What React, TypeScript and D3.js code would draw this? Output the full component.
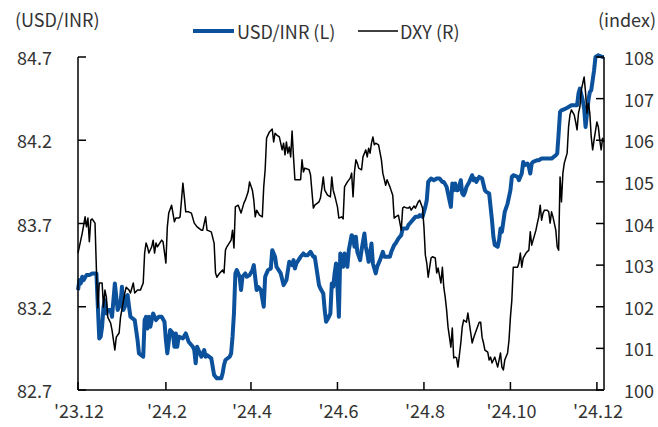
import React from 'react';
import * as d3 from 'd3';

const inrDates = [
  '2023-12-01','2023-12-02','2023-12-03','2023-12-04','2023-12-05','2023-12-07','2023-12-09','2023-12-11','2023-12-14','2023-12-15',
  '2023-12-16','2023-12-17','2023-12-18','2023-12-19','2023-12-20','2023-12-21','2023-12-22','2023-12-24','2023-12-25','2023-12-27',
  '2023-12-28','2023-12-29','2023-12-30','2023-12-31','2024-01-01','2024-01-02','2024-01-03','2024-01-04','2024-01-05','2024-01-06',
  '2024-01-07','2024-01-10','2024-01-12','2024-01-13','2024-01-16','2024-01-17','2024-01-18','2024-01-19','2024-01-20','2024-01-21',
  '2024-01-23','2024-01-24','2024-01-25','2024-01-27','2024-01-29','2024-01-31','2024-02-01','2024-02-02','2024-02-04','2024-02-06',
  '2024-02-07','2024-02-08','2024-02-09','2024-02-10','2024-02-13','2024-02-15','2024-02-17','2024-02-20','2024-02-21','2024-02-22',
  '2024-02-23','2024-02-24','2024-02-26','2024-02-27','2024-02-28','2024-02-29','2024-03-01','2024-03-04','2024-03-06','2024-03-08',
  '2024-03-11','2024-03-12','2024-03-13','2024-03-14','2024-03-17','2024-03-18','2024-03-19','2024-03-20','2024-03-21','2024-03-22',
  '2024-03-24','2024-03-25','2024-03-26','2024-03-28','2024-03-29','2024-03-31','2024-04-02','2024-04-03','2024-04-05','2024-04-06',
  '2024-04-08','2024-04-10','2024-04-11','2024-04-13','2024-04-15','2024-04-16','2024-04-18','2024-04-19','2024-04-22','2024-04-24',
  '2024-04-26','2024-04-28','2024-04-30','2024-05-01','2024-05-02','2024-05-03','2024-05-06','2024-05-08','2024-05-09','2024-05-11',
  '2024-05-13','2024-05-15','2024-05-16','2024-05-19','2024-05-20','2024-05-22','2024-05-23','2024-05-24','2024-05-26','2024-05-27',
  '2024-05-28','2024-05-29','2024-05-30','2024-05-31','2024-06-01','2024-06-02','2024-06-03','2024-06-04','2024-06-05','2024-06-06',
  '2024-06-08','2024-06-09','2024-06-11','2024-06-12','2024-06-13','2024-06-14','2024-06-15','2024-06-17','2024-06-18','2024-06-20',
  '2024-06-21','2024-06-22','2024-06-23','2024-06-24','2024-06-25','2024-06-26','2024-06-28','2024-06-29','2024-07-01','2024-07-03',
  '2024-07-04','2024-07-05','2024-07-08','2024-07-09','2024-07-11','2024-07-12','2024-07-14','2024-07-16','2024-07-17','2024-07-20',
  '2024-07-21','2024-07-22','2024-07-24','2024-07-26','2024-07-28','2024-07-29','2024-07-31','2024-08-02','2024-08-03','2024-08-04',
  '2024-08-06','2024-08-08','2024-08-10','2024-08-12','2024-08-14','2024-08-15','2024-08-17','2024-08-18','2024-08-20','2024-08-21',
  '2024-08-22','2024-08-23','2024-08-24','2024-08-25','2024-08-27','2024-08-28','2024-08-29','2024-08-30','2024-08-31','2024-09-02',
  '2024-09-04','2024-09-05','2024-09-06','2024-09-07','2024-09-09','2024-09-11','2024-09-13','2024-09-14','2024-09-16','2024-09-17',
  '2024-09-18','2024-09-19','2024-09-20','2024-09-22','2024-09-23','2024-09-24','2024-09-25','2024-09-26','2024-09-27','2024-09-29',
  '2024-10-01','2024-10-02','2024-10-03','2024-10-06','2024-10-07','2024-10-09','2024-10-10','2024-10-11','2024-10-13','2024-10-14',
  '2024-10-15','2024-10-16','2024-10-17','2024-10-20','2024-10-21','2024-10-23','2024-10-26','2024-10-28','2024-10-30','2024-11-02',
  '2024-11-03','2024-11-04','2024-11-05','2024-11-06','2024-11-09','2024-11-11','2024-11-13','2024-11-16','2024-11-17','2024-11-18',
  '2024-11-19','2024-11-21','2024-11-22','2024-11-23','2024-11-25','2024-11-26','2024-11-27','2024-11-29','2024-11-30','2024-12-02',
  '2024-12-05','2024-12-06'
];
const inrValues = [
  83.30,83.36,83.34,83.38,83.36,83.39,83.39,83.40,83.40,83.20,
  83.01,83.02,83.08,83.20,83.24,83.16,83.18,83.18,83.14,83.34,
  83.26,83.18,83.20,83.22,83.32,83.18,83.20,83.26,83.27,83.20,
  83.14,83.12,83.00,82.92,82.90,83.12,83.14,83.07,83.14,83.08,
  83.16,83.14,83.12,83.14,83.14,83.11,83.00,82.92,83.06,83.04,
  82.96,83.04,82.96,83.02,83.01,83.04,82.99,82.96,82.94,82.86,
  82.96,82.94,82.90,82.92,82.94,82.90,82.91,82.89,82.79,82.77,
  82.77,82.80,82.85,82.88,82.90,82.92,83.02,83.16,83.40,83.42,
  83.38,83.30,83.38,83.40,83.38,83.39,83.42,83.45,83.30,83.32,
  83.30,83.20,83.38,83.42,83.43,83.54,83.50,83.44,83.40,83.33,
  83.36,83.47,83.45,83.48,83.43,83.46,83.50,83.52,83.51,83.51,
  83.53,83.50,83.50,83.33,83.31,83.28,83.18,83.11,83.14,83.16,
  83.34,83.32,83.40,83.46,83.32,83.14,83.52,83.50,83.44,83.52,
  83.44,83.54,83.63,83.62,83.56,83.62,83.53,83.48,83.54,83.64,
  83.56,83.52,83.47,83.52,83.58,83.46,83.40,83.44,83.48,83.53,
  83.50,83.50,83.50,83.53,83.57,83.58,83.61,83.63,83.67,83.67,
  83.69,83.70,83.72,83.74,83.74,83.75,83.74,83.80,83.84,83.95,
  83.97,83.96,83.97,83.97,83.95,83.95,83.92,83.88,83.80,83.94,
  83.90,83.94,83.90,83.90,83.96,83.88,83.87,83.89,83.92,83.95,
  83.99,83.96,83.97,83.95,83.98,83.97,83.90,83.89,83.88,83.80,
  83.72,83.62,83.57,83.56,83.60,83.67,83.65,83.71,83.77,83.82,
  83.90,83.98,83.99,83.98,83.96,84.00,84.07,84.05,84.06,84.04,
  84.00,84.06,84.07,84.08,84.08,84.09,84.09,84.09,84.09,84.11,
  84.12,84.24,84.37,84.38,84.39,84.40,84.41,84.41,84.41,84.48,
  84.51,84.44,84.39,84.28,84.44,84.49,84.50,84.62,84.70,84.71,
  84.70,84.70
];

const dxyDates = [
  '2023-12-01','2023-12-04','2023-12-06','2023-12-07','2023-12-08','2023-12-09','2023-12-10','2023-12-11','2023-12-13','2023-12-14',
  '2023-12-15','2023-12-16','2023-12-18','2023-12-19','2023-12-20','2023-12-21','2023-12-22','2023-12-23','2023-12-24','2023-12-25',
  '2023-12-27','2023-12-28','2023-12-30','2023-12-31','2024-01-03','2024-01-04','2024-01-06','2024-01-07','2024-01-09','2024-01-10',
  '2024-01-12','2024-01-14','2024-01-16','2024-01-17','2024-01-18','2024-01-19','2024-01-20','2024-01-22','2024-01-23','2024-01-24',
  '2024-01-25','2024-01-26','2024-01-29','2024-01-30','2024-02-01','2024-02-02','2024-02-03','2024-02-05','2024-02-07','2024-02-08',
  '2024-02-10','2024-02-11','2024-02-13','2024-02-14','2024-02-15','2024-02-17','2024-02-19','2024-02-21','2024-02-23','2024-02-26',
  '2024-02-27','2024-02-29','2024-03-01','2024-03-04','2024-03-06','2024-03-07','2024-03-08','2024-03-10','2024-03-12','2024-03-13',
  '2024-03-14','2024-03-15','2024-03-18','2024-03-19','2024-03-20','2024-03-21','2024-03-23','2024-03-25','2024-03-27','2024-03-28',
  '2024-03-30','2024-03-31','2024-04-02','2024-04-03','2024-04-04','2024-04-05','2024-04-07','2024-04-09','2024-04-10','2024-04-11',
  '2024-04-12','2024-04-14','2024-04-16','2024-04-17','2024-04-18','2024-04-19','2024-04-21','2024-04-23','2024-04-24','2024-04-25',
  '2024-04-26','2024-04-27','2024-04-28','2024-04-29','2024-04-30','2024-05-01','2024-05-02','2024-05-04','2024-05-06','2024-05-07',
  '2024-05-08','2024-05-09','2024-05-12','2024-05-13','2024-05-15','2024-05-16','2024-05-19','2024-05-20','2024-05-21','2024-05-22',
  '2024-05-23','2024-05-25','2024-05-27','2024-05-28','2024-05-29','2024-05-30','2024-06-01','2024-06-02','2024-06-04','2024-06-05',
  '2024-06-06','2024-06-08','2024-06-10','2024-06-11','2024-06-12','2024-06-13','2024-06-14','2024-06-15','2024-06-16','2024-06-18',
  '2024-06-19','2024-06-21','2024-06-22','2024-06-23','2024-06-24','2024-06-25','2024-06-26','2024-06-27','2024-06-28','2024-06-30',
  '2024-07-02','2024-07-03','2024-07-05','2024-07-06','2024-07-08','2024-07-10','2024-07-11','2024-07-12','2024-07-14','2024-07-16',
  '2024-07-17','2024-07-18','2024-07-20','2024-07-21','2024-07-22','2024-07-23','2024-07-25','2024-07-26','2024-07-28','2024-07-29',
  '2024-07-31','2024-08-01','2024-08-02','2024-08-03','2024-08-04','2024-08-06','2024-08-07','2024-08-09','2024-08-10','2024-08-11',
  '2024-08-13','2024-08-14','2024-08-15','2024-08-16','2024-08-17','2024-08-18','2024-08-20','2024-08-21','2024-08-22','2024-08-23',
  '2024-08-24','2024-08-25','2024-08-27','2024-08-28','2024-08-29','2024-08-31','2024-09-01','2024-09-02','2024-09-04','2024-09-05',
  '2024-09-07','2024-09-09','2024-09-10','2024-09-11','2024-09-12','2024-09-13','2024-09-15','2024-09-16','2024-09-17','2024-09-18',
  '2024-09-19','2024-09-20','2024-09-22','2024-09-23','2024-09-24','2024-09-25','2024-09-26','2024-09-27','2024-09-29','2024-09-30',
  '2024-10-01','2024-10-02','2024-10-03','2024-10-06','2024-10-07','2024-10-08','2024-10-09','2024-10-10','2024-10-12','2024-10-14',
  '2024-10-15','2024-10-16','2024-10-17','2024-10-19','2024-10-20','2024-10-21','2024-10-22','2024-10-23','2024-10-24','2024-10-25',
  '2024-10-27','2024-10-28','2024-10-29','2024-10-30','2024-10-31','2024-11-02','2024-11-03','2024-11-04','2024-11-05','2024-11-06',
  '2024-11-07','2024-11-08','2024-11-10','2024-11-11','2024-11-12','2024-11-13','2024-11-15','2024-11-16','2024-11-17','2024-11-18',
  '2024-11-19','2024-11-20','2024-11-22','2024-11-23','2024-11-24','2024-11-25','2024-11-26','2024-11-27','2024-11-28','2024-11-29',
  '2024-12-01','2024-12-02','2024-12-03','2024-12-04','2024-12-05','2024-12-06'
];
const dxyValues = [
  103.29,103.77,104.16,103.92,104.13,103.56,104.08,104.11,104.01,102.88,
  101.97,102.57,102.57,101.99,102.40,102.23,101.75,101.68,101.61,101.44,
  100.96,101.27,101.37,101.75,102.33,102.47,102.40,102.33,102.57,102.33,
  102.40,102.40,102.57,103.29,103.53,103.44,103.29,103.44,103.60,103.29,
  103.53,103.44,103.60,103.56,103.05,103.92,104.25,104.44,104.04,104.13,
  104.13,104.16,104.97,104.64,104.28,104.28,104.25,104.01,103.92,103.84,
  103.84,104.16,103.84,103.80,103.53,102.81,102.71,102.81,102.88,102.81,
  103.36,103.44,103.60,103.84,103.41,104.40,104.44,104.25,104.49,104.56,
  104.76,105.00,104.80,104.56,104.16,104.32,104.20,104.16,104.88,105.29,
  106.05,106.20,106.27,105.96,106.17,106.13,106.08,105.77,105.93,105.65,
  105.96,105.69,105.84,105.60,106.22,105.60,105.05,105.05,105.05,105.53,
  105.24,105.33,105.29,105.17,104.37,104.44,104.52,104.61,104.85,105.12,
  104.80,104.68,104.64,105.12,104.80,104.68,104.40,104.13,104.16,104.11,
  104.88,105.00,105.09,105.21,104.64,105.24,105.53,105.45,105.33,105.29,
  105.60,105.77,105.60,105.81,105.69,105.93,106.08,105.89,105.93,105.89,
  105.53,105.21,104.92,105.05,104.88,104.68,104.13,104.16,104.20,103.84,
  104.37,104.40,104.37,104.37,104.40,104.32,104.42,104.37,104.52,104.56,
  104.37,103.92,103.24,103.05,102.71,103.17,103.20,103.17,102.81,102.93,
  102.57,102.95,102.47,102.23,101.92,101.51,101.03,101.49,100.77,100.79,
  100.77,100.55,101.13,101.51,101.68,101.63,101.85,101.61,101.13,101.25,
  101.44,101.63,101.63,101.27,101.13,100.96,100.91,100.72,100.79,100.65,
  100.72,100.79,100.55,100.72,100.89,100.55,100.48,100.72,100.89,101.20,
  101.75,102.16,102.95,102.95,103.05,103.29,102.95,103.17,103.29,103.36,
  103.80,103.48,103.60,103.84,104.01,104.16,104.44,104.08,104.25,104.32,
  104.32,104.28,104.01,104.28,104.16,103.84,103.44,103.36,105.12,104.52,
  105.21,105.45,105.69,106.32,106.61,106.73,106.61,106.44,106.25,106.65,
  106.80,107.21,107.52,107.14,106.65,106.89,106.65,106.08,105.77,106.01,
  106.44,106.32,106.01,105.77,106.05,105.96
];

const leftTicks = [82.7, 83.2, 83.7, 84.2, 84.7];
const rightTicks = [100, 101, 102, 103, 104, 105, 106, 107, 108];
const xTickDates = ['2023-12-01', '2024-02-01', '2024-04-01', '2024-06-01', '2024-08-01', '2024-10-01', '2024-12-01'];
const xTickLabels = ["'23.12", "'24.2", "'24.4", "'24.6", "'24.8", "'24.10", "'24.12"];
const xDomain = ['2023-12-01', '2024-12-06'];

const FONT = "'Noto Sans CJK KR', 'Noto Sans', sans-serif";
const BLUE = '#0b519c';
const TEXT = '#333';

export default function App() {
  const W = 658, H = 427;
  const L = 78, R = 604, T = 57, B = 390;
  const parse = d3.timeParse('%Y-%m-%d');
  const x = d3.scaleTime().domain(xDomain.map(s => parse(s) as Date)).range([L, R]);
  const yL = d3.scaleLinear().domain([82.7, 84.7]).range([B, T]);
  const yR = d3.scaleLinear().domain([100, 108]).range([B, T]);

  const inr = inrDates.map((d, i) => ({ d: parse(d) as Date, v: inrValues[i] }));
  const dxy = dxyDates.map((d, i) => ({ d: parse(d) as Date, v: dxyValues[i] }));
  const lineL = d3.line<{ d: Date; v: number }>().x(p => x(p.d)).y(p => yL(p.v));
  const lineR = d3.line<{ d: Date; v: number }>().x(p => x(p.d)).y(p => yR(p.v));

  const fs = 18;
  return (
    <svg width={W} height={H} style={{ position: 'absolute', left: 0, top: 0, background: '#fff' }}
      fontFamily={FONT}>
      <rect x={0} y={0} width={W} height={H} fill="#fff" />
      {/* header */}
      <text x={15} y={19} fontSize={fs} dominantBaseline="central" fill={TEXT}>(USD/INR)</text>
      <text x={656} y={19} fontSize={fs} textAnchor="end" dominantBaseline="central" fill={TEXT}>(index)</text>
      <line x1={193} x2={234} y1={31} y2={31} stroke={BLUE} strokeWidth={4} />
      <text x={237} y={31} fontSize={fs} dominantBaseline="central" fill={TEXT}>USD/INR (L)</text>
      <line x1={358} x2={398} y1={31} y2={31} stroke="#000" strokeWidth={1.5} />
      <text x={400} y={31} fontSize={fs} dominantBaseline="central" fill={TEXT}>DXY (R)</text>

      {/* series */}
      <path d={lineL(inr) || ''} fill="none" stroke={BLUE} strokeWidth={4} strokeLinejoin="round" />
      <path d={lineR(dxy) || ''} fill="none" stroke="#000" strokeWidth={1.5} strokeLinejoin="round" />

      {/* axes */}
      <line x1={L} x2={L} y1={T} y2={B} stroke="#000" strokeWidth={1.5} />
      <line x1={R} x2={R} y1={T} y2={B} stroke="#000" strokeWidth={1.5} />
      <line x1={L} x2={R} y1={B} y2={B} stroke="#000" strokeWidth={1.5} />
      {leftTicks.map(t => (
        <g key={'l' + t}>
          <line x1={L} x2={L + 8} y1={yL(t)} y2={yL(t)} stroke="#000" strokeWidth={1.5} />
          <text x={52} y={yL(t)} fontSize={fs} textAnchor="end" dominantBaseline="central" fill={TEXT}>{t.toFixed(1)}</text>
        </g>
      ))}
      {rightTicks.map(t => (
        <g key={'r' + t}>
          <line x1={R - 8} x2={R} y1={yR(t)} y2={yR(t)} stroke="#000" strokeWidth={1.5} />
          <text x={624} y={yR(t)} fontSize={fs} dominantBaseline="central" fill={TEXT}>{t}</text>
        </g>
      ))}
      {xTickDates.map((s, i) => {
        const xv = x(parse(s) as Date);
        return (
          <g key={s}>
            <line x1={xv} x2={xv} y1={B} y2={B - 8} stroke="#000" strokeWidth={1.5} />
            <text x={xv + 1} y={410} fontSize={fs} textAnchor="middle" dominantBaseline="central" fill={TEXT}>{xTickLabels[i]}</text>
          </g>
        );
      })}
    </svg>
  );
}
